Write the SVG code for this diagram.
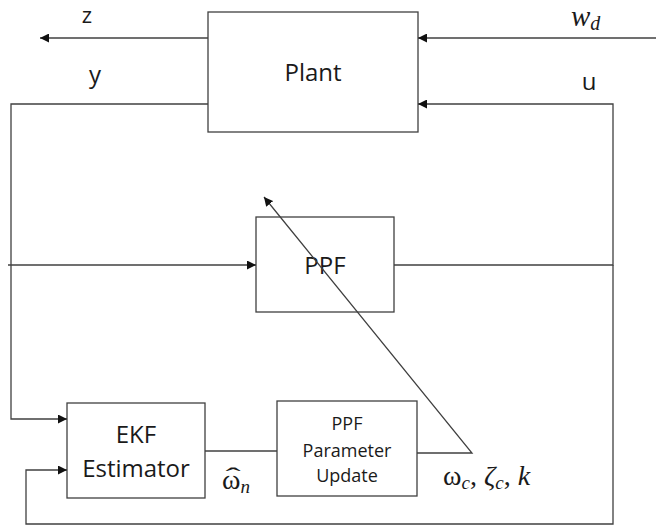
<svg xmlns="http://www.w3.org/2000/svg" width="656" height="527" viewBox="0 0 656 527">
<style>
.box{fill:#fff;stroke:#404040;stroke-width:1.3}
.ln{fill:none;stroke:#404040;stroke-width:1.3}
.t{font-family:"Open Sans","Liberation Sans",sans-serif;fill:#1a1a1a;text-anchor:middle}
.m{font-family:"Liberation Serif","DejaVu Serif",serif;fill:#1a1a1a}
</style>
<defs>
<marker id="ah" viewBox="0 0 10 10" refX="10" refY="5" markerWidth="9" markerHeight="9" markerUnits="userSpaceOnUse" orient="auto">
<path d="M0,0 L10,5 L0,10 z" fill="#111"/>
</marker>
</defs>
<rect width="656" height="527" fill="#fff"/>
<g id="plant">
<rect class="box" x="208" y="12" width="210" height="120"/>
<text class="t" x="313" y="81" font-size="24">Plant</text>
</g>
<g id="ppf">
<rect class="box" x="256" y="217" width="138" height="95"/>
<text class="t" x="325" y="274" font-size="24">PPF</text>
</g>
<g id="ekf">
<rect class="box" x="67" y="403" width="138" height="95"/>
<text class="t" x="136" y="443" font-size="24">EKF</text>
<text class="t" x="136" y="477" font-size="24">Estimator</text>
</g>
<g id="ppf-update">
<rect class="box" x="277" y="401" width="140" height="95"/>
<text class="t" x="347" y="430" font-size="18">PPF</text>
<text class="t" x="347" y="457" font-size="18">Parameter</text>
<text class="t" x="347" y="482" font-size="18">Update</text>
</g>
<g id="connectors">
<path class="ln" d="M208,38 H40" marker-end="url(#ah)"/>
<path class="ln" d="M656,38 H418" marker-end="url(#ah)"/>
<path class="ln" d="M208,104 H11 V419 H67" marker-end="url(#ah)"/>
<path class="ln" d="M394,265 H613 V104 H418" marker-end="url(#ah)"/>
<path class="ln" d="M613,265 V524 H26 V470 H67" marker-end="url(#ah)"/>
<path class="ln" d="M8,265 H256" marker-end="url(#ah)"/>
<path class="ln" d="M205,451 H277"/>
<path class="ln" d="M417,453 H472 L264,197" marker-end="url(#ah)"/>
</g>
<g id="labels">
<text class="t" x="87" y="23" font-size="22">z</text>
<text class="t" x="95" y="83" font-size="24">y</text>
<text class="t" x="589" y="90" font-size="24">u</text>
<text class="m" x="571" y="26" font-size="29" font-style="italic">w<tspan font-size="20" dy="4">d</tspan></text>
<text class="m" x="222" y="489" font-size="28">ω<tspan font-size="19" font-style="italic" dy="4">n</tspan></text>
<text class="m" x="233" y="484" font-size="24" text-anchor="middle" transform="translate(233,0) scale(1.9,1) translate(-233,0)">ˆ</text>
<text class="m" x="443" y="485" font-size="28">ω<tspan font-size="19" font-style="italic" dy="4">c</tspan><tspan dy="-4">, </tspan><tspan font-style="italic">ζ</tspan><tspan font-size="19" font-style="italic" dy="4">c</tspan><tspan dy="-4">, </tspan><tspan font-style="italic">k</tspan></text>
</g>
</svg>
